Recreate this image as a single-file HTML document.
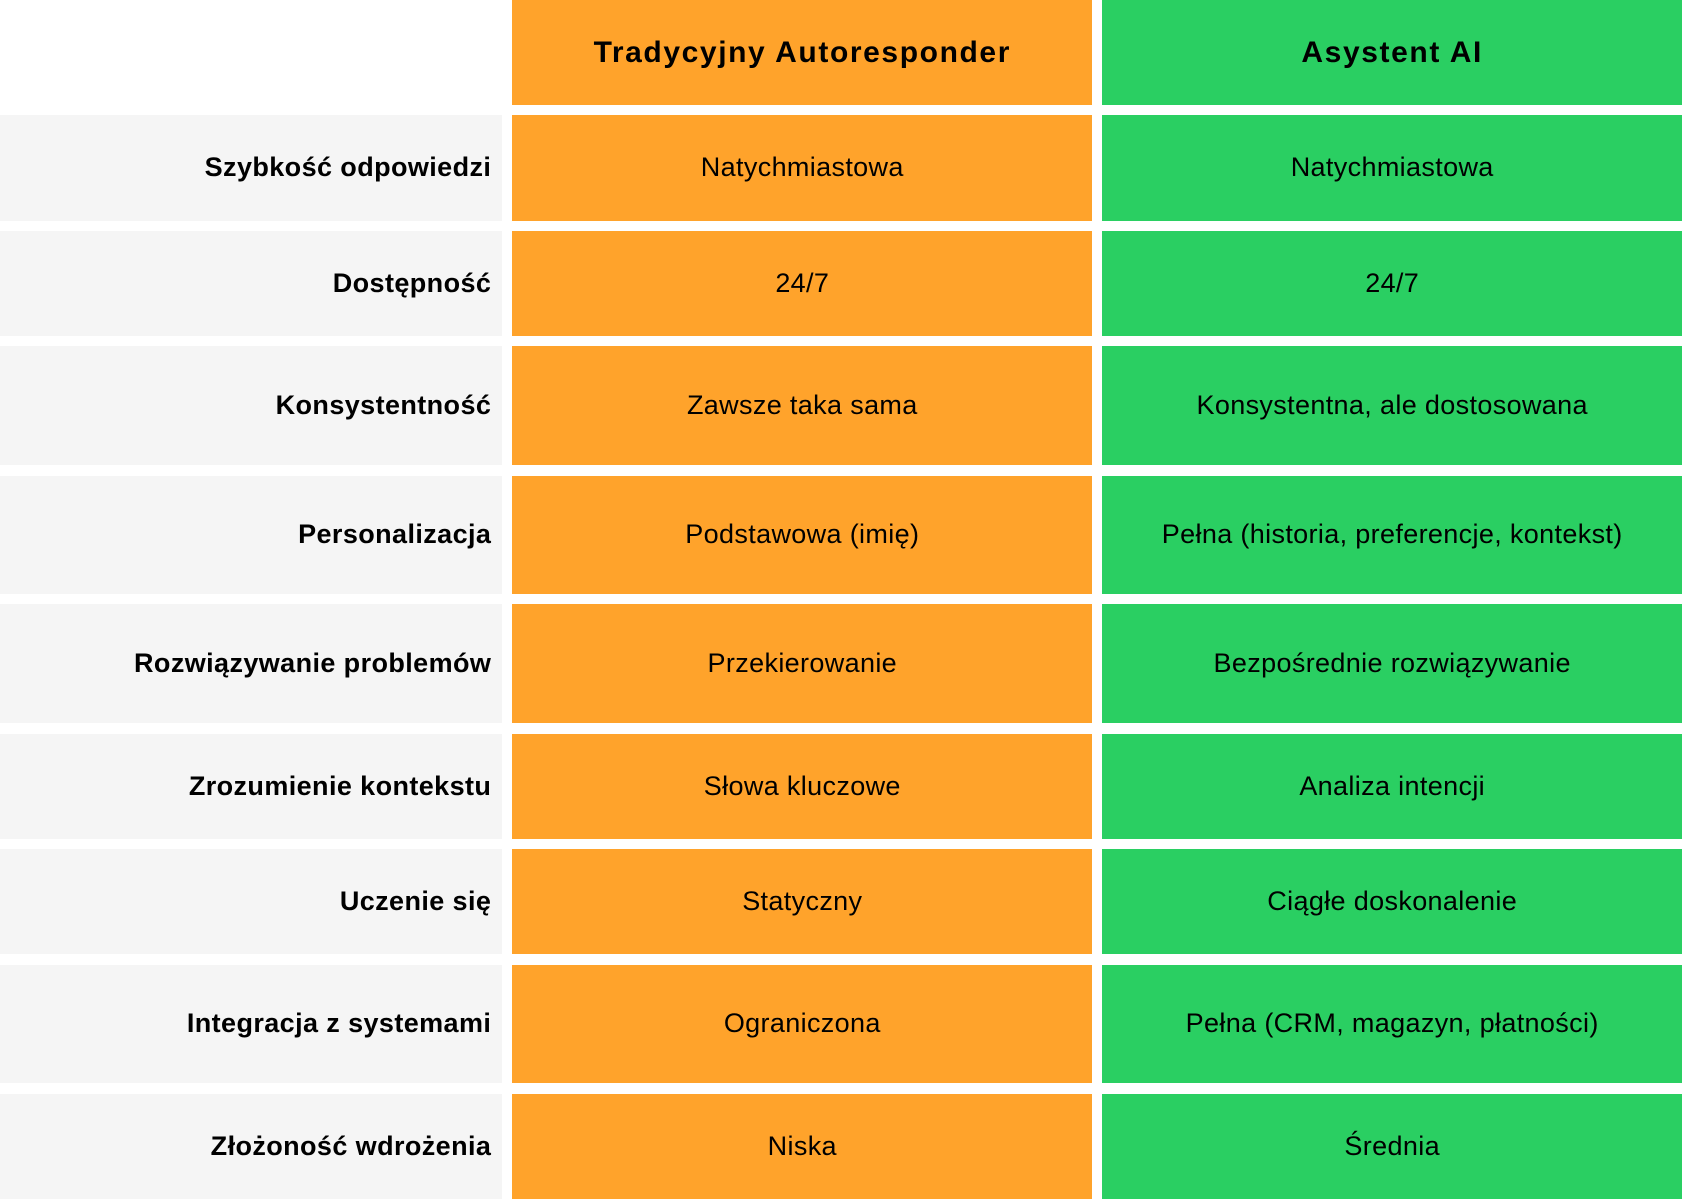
<!DOCTYPE html>
<html>
<head>
<meta charset="utf-8">
<style>
html,body{margin:0;padding:0;background:#ffffff;}
body{width:1682px;height:1200px;position:relative;overflow:hidden;font-family:"Liberation Sans","DejaVu Sans",sans-serif;color:#000;}
.c{position:absolute;display:flex;align-items:center;box-sizing:border-box;white-space:nowrap;}
.l{left:0;width:502.3px;background:#f5f5f5;justify-content:flex-end;padding-right:11px;font-weight:bold;font-size:27px;letter-spacing:0.4px;}
.o{left:512.3px;width:580px;background:#ffa32b;justify-content:center;font-size:27px;letter-spacing:0.35px;}
.g{left:1102.4px;width:579.6px;background:#2acf62;justify-content:center;font-size:27px;letter-spacing:0.35px;}
.h{font-weight:bold;font-size:30px;letter-spacing:1.6px;}
</style>
</head>
<body>
<div class="c o h" style="top:0;height:105.3px;">Tradycyjny Autoresponder</div>
<div class="c g h" style="top:0;height:105.3px;">Asystent AI</div>

<div class="c l" style="top:115.3px;height:105.4px;">Szybkość odpowiedzi</div>
<div class="c o" style="top:115.3px;height:105.4px;">Natychmiastowa</div>
<div class="c g" style="top:115.3px;height:105.4px;">Natychmiastowa</div>

<div class="c l" style="top:230.7px;height:105px;">Dostępność</div>
<div class="c o" style="top:230.7px;height:105px;">24/7</div>
<div class="c g" style="top:230.7px;height:105px;">24/7</div>

<div class="c l" style="top:346px;height:119.3px;">Konsystentność</div>
<div class="c o" style="top:346px;height:119.3px;">Zawsze taka sama</div>
<div class="c g" style="top:346px;height:119.3px;">Konsystentna, ale dostosowana</div>

<div class="c l" style="top:475.7px;height:118.6px;">Personalizacja</div>
<div class="c o" style="top:475.7px;height:118.6px;">Podstawowa (imię)</div>
<div class="c g" style="top:475.7px;height:118.6px;">Pełna (historia, preferencje, kontekst)</div>

<div class="c l" style="top:604.4px;height:118.8px;">Rozwiązywanie problemów</div>
<div class="c o" style="top:604.4px;height:118.8px;">Przekierowanie</div>
<div class="c g" style="top:604.4px;height:118.8px;">Bezpośrednie rozwiązywanie</div>

<div class="c l" style="top:733.6px;height:105.2px;">Zrozumienie kontekstu</div>
<div class="c o" style="top:733.6px;height:105.2px;">Słowa kluczowe</div>
<div class="c g" style="top:733.6px;height:105.2px;">Analiza intencji</div>

<div class="c l" style="top:849.3px;height:105.1px;">Uczenie się</div>
<div class="c o" style="top:849.3px;height:105.1px;">Statyczny</div>
<div class="c g" style="top:849.3px;height:105.1px;">Ciągłe doskonalenie</div>

<div class="c l" style="top:964.7px;height:118.6px;">Integracja z systemami</div>
<div class="c o" style="top:964.7px;height:118.6px;">Ograniczona</div>
<div class="c g" style="top:964.7px;height:118.6px;">Pełna (CRM, magazyn, płatności)</div>

<div class="c l" style="top:1093.7px;height:105.5px;">Złożoność wdrożenia</div>
<div class="c o" style="top:1093.7px;height:105.5px;">Niska</div>
<div class="c g" style="top:1093.7px;height:105.5px;">Średnia</div>
</body>
</html>
